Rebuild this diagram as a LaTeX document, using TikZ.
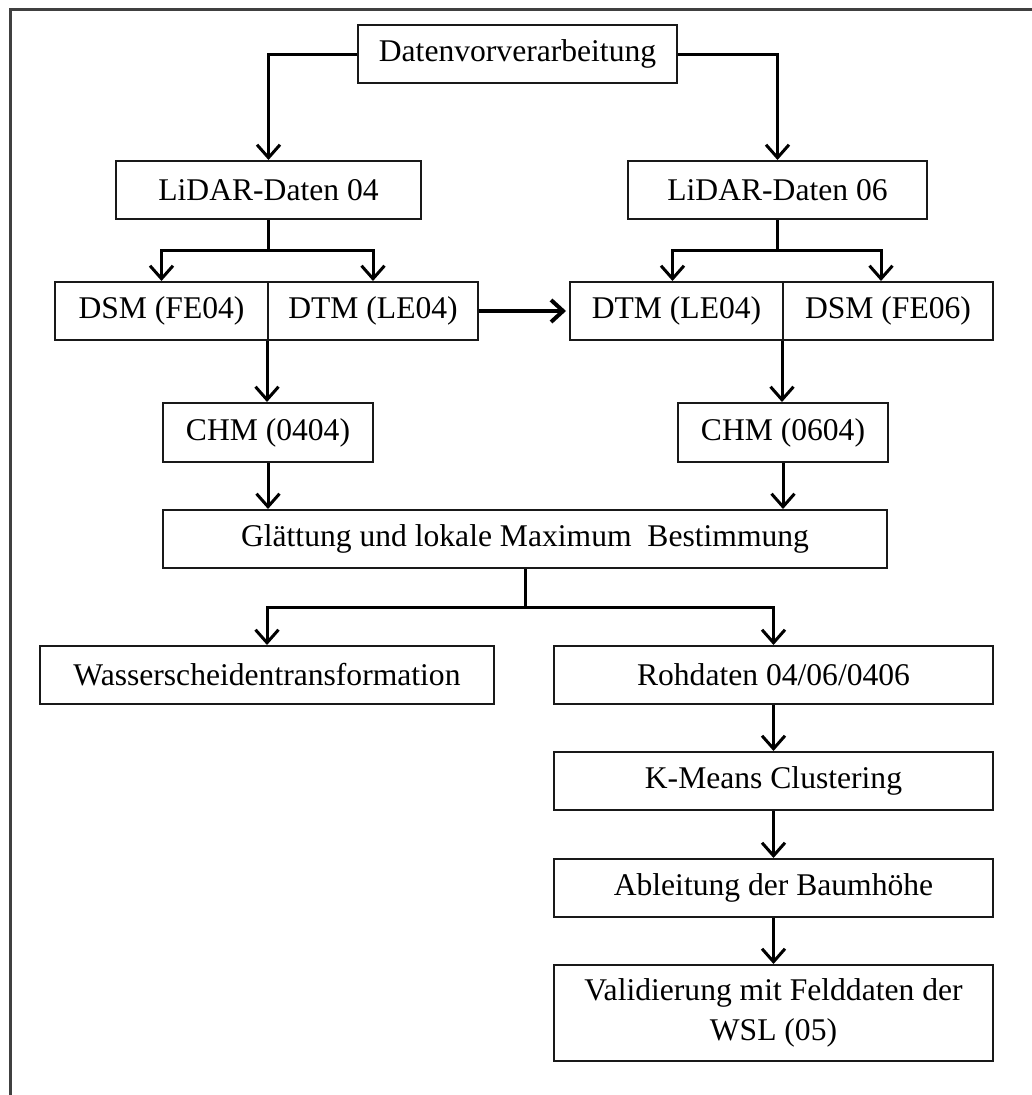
\documentclass[tikz,border=0pt]{standalone}
\usepackage{fontspec}
\setmainfont{Liberation Serif}
\usetikzlibrary{arrows.meta}

\begin{document}
\begin{tikzpicture}[x=1pt,y=-1pt,
  box/.style={draw=black!90, line width=2pt, fill=white, inner sep=0pt,
    minimum height=58pt, align=center,
    font=\fontsize{31.6pt}{40pt}\selectfont},
  link/.style={line width=3pt, draw=black},
  arr/.style={link, -{Straight Barb[length=13pt,width=23pt]}},
  bigarr/.style={line width=4pt, draw=black, -{Straight Barb[length=12pt,width=22pt]}},
  frame/.style={line width=3pt, draw=black!75}
]
\useasboundingbox (0,0) rectangle (1032,1095);
% outer frame
\draw[frame] (1032,9) -- (10,9) -- (10,1095);

% nodes
\node[box, minimum width=319pt] (pre) at (517.5,54) {Datenvorverarbeitung};
\node[box, minimum width=305pt] (l04) at (268.5,190) {LiDAR-Daten 04};
\node[box, minimum width=299pt] (l06) at (777.5,190) {LiDAR-Daten 06};

\node[box, minimum width=213pt] (dsm04) at (161.5,311) {DSM (FE04)};
\node[box, minimum width=210pt] (dtm04) at (373,311) {DTM (LE04)};
\node[box, minimum width=213pt] (dtm06) at (676.5,311) {DTM (LE04)};
\node[box, minimum width=210pt] (dsm06) at (888,311) {DSM (FE06)};

\node[box, minimum width=210pt, minimum height=59pt] (chm04) at (268,432.5) {CHM (0404)};
\node[box, minimum width=210pt, minimum height=59pt] (chm06) at (783,432.5) {CHM (0604)};

\node[box, minimum width=724pt] (glatt) at (525,539) {Glättung und lokale Maximum\ \ Bestimmung};

\node[box, minimum width=454pt] (wasser) at (267,675) {Wasserscheidentransformation};
\node[box, minimum width=439pt] (roh) at (773.5,675) {Rohdaten 04/06/0406};
\node[box, minimum width=439pt] (kmeans) at (773.5,781) {K-Means Clustering};
\node[box, minimum width=439pt] (ableit) at (773.5,888) {Ableitung der Baumhöhe};
\node[box, minimum width=439pt, minimum height=96pt] (valid) at (773.5,1013)
  {Validierung mit Felddaten der\\WSL (05)};

% connectors
\draw[arr] (pre.west) -| (l04.north);
\draw[arr] (pre.east) -| (l06.north);

\coordinate (j04) at ([yshift=-30pt]l04.south);
\draw[link] (l04.south) -- (j04);
\draw[arr] (j04) -| (dsm04.north);
\draw[arr] (j04) -| (dtm04.north);

\coordinate (j06) at ([yshift=-30pt]l06.south);
\draw[link] (l06.south) -- (j06);
\draw[arr] (j06) -| ([xshift=-4pt]dtm06.north);
\draw[arr] (j06) -| ([xshift=-7pt]dsm06.north);

\draw[bigarr, shorten >=3pt] (dtm04.east) -- (dtm06.west);

\draw[arr] (dtm04.south west) -- (dtm04.south west |- chm04.north);
\draw[arr] (dsm06.south west) -- (dsm06.south west |- chm06.north);

\draw[arr] (chm04.south) -- (chm04.south |- glatt.north);
\draw[arr] (chm06.south) -- (chm06.south |- glatt.north);

\coordinate (jg) at ([yshift=-38pt]glatt.south);
\draw[link] (glatt.south) -- (jg);
\draw[arr] (jg) -| (wasser.north);
\draw[arr] (jg) -| (roh.north);

\draw[arr] (roh.south) -- (kmeans.north);
\draw[arr] (kmeans.south) -- (ableit.north);
\draw[arr] (ableit.south) -- (valid.north);
\end{tikzpicture}
\end{document}
